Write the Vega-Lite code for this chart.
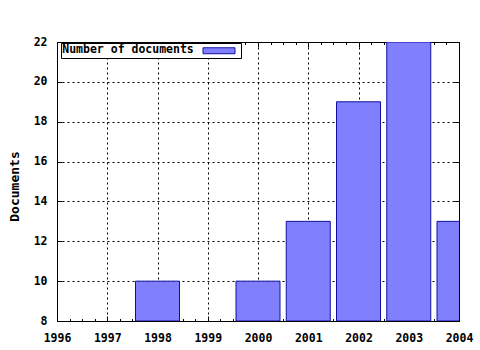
{
  "$schema": "https://vega.github.io/schema/vega-lite/v6.json",
  "width": 402,
  "height": 279,
  "autosize": "none",
  "padding": {"left": 57, "top": 42, "right": 21, "bottom": 29},
  "background": "white",
  "view": {"stroke": "black", "strokeWidth": 1},
  "config": {
    "font": "DejaVu Sans Mono",
    "axis": {
      "labelFont": "DejaVu Sans Mono",
      "labelFontWeight": "bold",
      "labelFontSize": 11.5,
      "labelColor": "black",
      "tickColor": "black",
      "domain": false,
      "gridColor": "black",
      "gridDash": [2, 3],
      "gridOpacity": 1,
      "gridWidth": 1
    }
  },
  "data": {
    "values": [
      {"year": 1998, "count": 10},
      {"year": 2000, "count": 10},
      {"year": 2001, "count": 13},
      {"year": 2002, "count": 19},
      {"year": 2003, "count": 22},
      {"year": 2004, "count": 13}
    ]
  },
  "layer": [
    {
      "mark": {"type": "bar", "width": 44, "clip": true, "stroke": "#1010a0", "strokeWidth": 1, "fillOpacity": 1},
      "encoding": {
        "x": {
          "field": "year", "type": "quantitative",
          "scale": {"domain": [1996, 2004], "nice": false, "zero": false, "padding": 0},
          "axis": {"orient": "bottom", "title": null, "values": [1996, 1997, 1998, 1999, 2000, 2001, 2002, 2003, 2004], "format": "d", "grid": true, "tickSize": -5, "labelPadding": 16, "labelFlush": false}
        },
        "y": {
          "field": "count", "type": "quantitative",
          "scale": {"domain": [8, 22], "nice": false, "zero": false, "padding": 0},
          "axis": {"orient": "left", "title": "Documents", "values": [8, 10, 12, 14, 16, 18, 20, 22], "grid": true, "tickSize": -5, "labelPadding": 15, "labelFlush": false,
            "titleFont": "DejaVu Sans Mono", "titleFontWeight": "bold", "titleFontSize": 13, "titleColor": "black",
            "titleAngle": -90, "titleAlign": "center", "titleBaseline": "middle", "titleX": -43, "titleY": 144}
        },
        "y2": {"datum": 8},
        "fill": {
          "datum": "Number of documents",
          "scale": {"range": ["#8080ff"]},
          "legend": {
            "orient": "none", "legendX": 4, "legendY": 1,
            "title": "Number of documents", "titleOrient": "left",
            "titleFont": "DejaVu Sans Mono", "titleFontWeight": "bold", "titleFontSize": 11.5, "titleColor": "black",
            "titlePadding": 18.25, "titleBaseline": "middle", "titleAnchor": "middle",
            "labelExpr": "''", "labelOffset": 14, "labelFontSize": 11.5,
            "padding": 1.25, "strokeColor": "black", "fillColor": "white",
            "symbolType": "M-2.78,-0.52H2.78V0.52H-2.78Z", "symbolSize": 132.25,
            "symbolStrokeColor": "#1010a0", "symbolStrokeWidth": 1, "symbolOpacity": 1, "symbolFillColor": "#8080ff"
          }
        }
      }
    },
    {
      "mark": {"type": "point", "opacity": 0},
      "encoding": {
        "x": {
          "field": "year", "type": "quantitative",
          "scale": {"domain": [1996, 2004], "nice": false, "zero": false, "padding": 0},
          "axis": {"orient": "top", "title": null, "values": [1996, 1997, 1998, 1999, 2000, 2001, 2002, 2003, 2004], "labels": false, "grid": false, "tickSize": -5}
        },
        "y": {
          "field": "count", "type": "quantitative",
          "scale": {"domain": [8, 22], "nice": false, "zero": false, "padding": 0},
          "axis": {"orient": "right", "title": null, "values": [8, 10, 12, 14, 16, 18, 20, 22], "labels": false, "grid": false, "tickSize": -5}
        }
      }
    },
    {
      "mark": {"type": "point", "opacity": 0},
      "encoding": {
        "x": {
          "field": "year", "type": "quantitative",
          "scale": {"domain": [1996, 2004], "nice": false, "zero": false, "padding": 0},
          "axis": {"orient": "bottom", "title": null, "values": [1996.25, 1996.5, 1996.75, 1997.25, 1997.5, 1997.75, 1998.25, 1998.5, 1998.75, 1999.25, 1999.5, 1999.75, 2000.25, 2000.5, 2000.75, 2001.25, 2001.5, 2001.75, 2002.25, 2002.5, 2002.75, 2003.25, 2003.5, 2003.75], "labels": false, "grid": false, "tickSize": -2.5}
        },
        "y": {"field": "count", "type": "quantitative", "scale": {"domain": [8, 22], "nice": false, "zero": false, "padding": 0}, "axis": null}
      }
    },
    {
      "mark": {"type": "point", "opacity": 0},
      "encoding": {
        "x": {
          "field": "year", "type": "quantitative",
          "scale": {"domain": [1996, 2004], "nice": false, "zero": false, "padding": 0},
          "axis": {"orient": "top", "title": null, "values": [1996.25, 1996.5, 1996.75, 1997.25, 1997.5, 1997.75, 1998.25, 1998.5, 1998.75, 1999.25, 1999.5, 1999.75, 2000.25, 2000.5, 2000.75, 2001.25, 2001.5, 2001.75, 2002.25, 2002.5, 2002.75, 2003.25, 2003.5, 2003.75], "labels": false, "grid": false, "tickSize": -2.5}
        },
        "y": {"field": "count", "type": "quantitative", "scale": {"domain": [8, 22], "nice": false, "zero": false, "padding": 0}, "axis": null}
      }
    }
  ],
  "resolve": {"axis": {"x": "independent", "y": "independent"}}
}
